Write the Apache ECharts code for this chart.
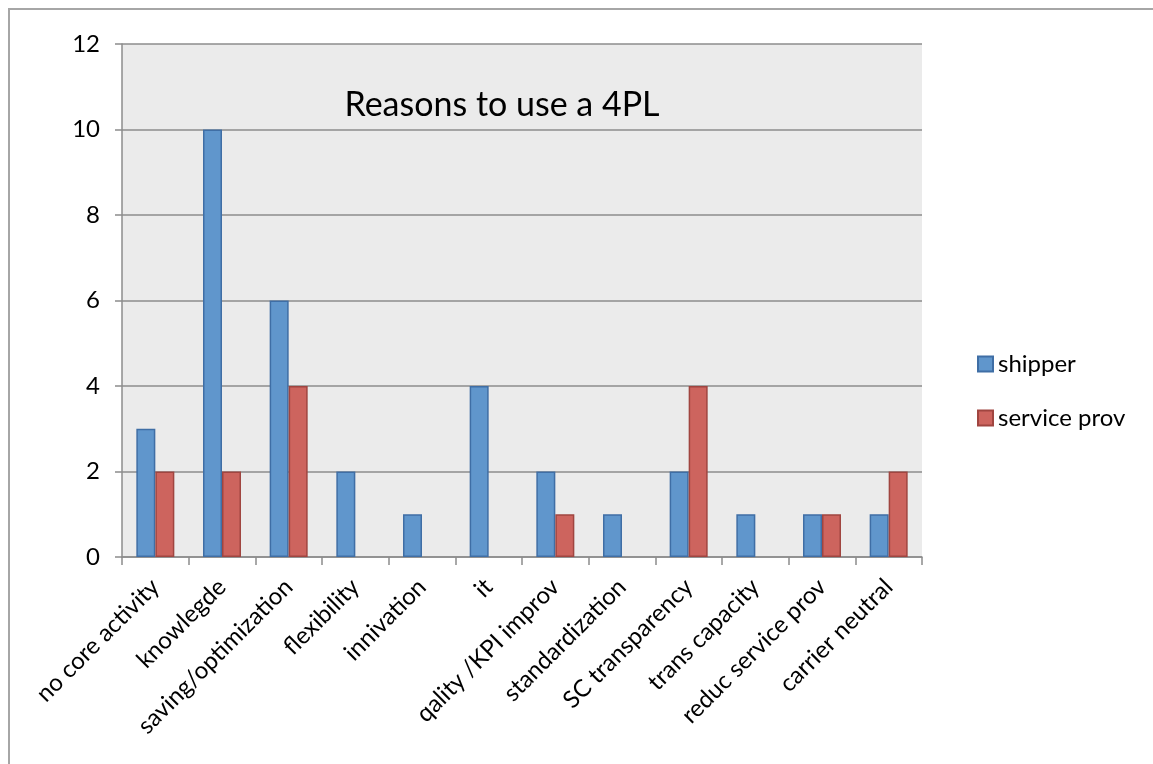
<!DOCTYPE html>
<html>
<head>
<meta charset="utf-8">
<script src="https://cdn.jsdelivr.net/npm/echarts@6/dist/echarts.min.js"></script>
<style>html,body{margin:0;padding:0;background:#fff;}#c{width:1153px;height:764px;}</style>
</head>
<body>
<div id="c"></div>
<script>
const categories = ['no core activity','knowlegde','saving/optimization','flexibility','innivation','it','qality /KPI improv','standardization','SC transparency','trans capacity','reduc service prov','carrier neutral'];
const shipper = [3,10,6,2,1,4,2,1,2,1,1,1];
const serviceProv = [2,2,4,0,0,0,1,0,4,0,1,2];
const yTicks = [0,2,4,6,8,10,12];

const FONT = 'Lato, "Open Sans", sans-serif';
const chart = echarts.init(document.getElementById('c'));
chart.setOption({
  animation: false,
  backgroundColor: '#fff',
  title: {
    text: 'Reasons to use a 4PL',
    left: 497, top: 83, textAlign: 'center',
    textStyle: {fontFamily: FONT, fontSize: 34, fontWeight: 'normal', color: '#000'}
  },
  graphic: [{
    type: 'rect', shape: {x: 9, y: 9, width: 1200, height: 800},
    style: {fill: 'none', stroke: '#a6a6a6', lineWidth: 2}, silent: true, z: -1
  }],
  legend: {
    orient: 'vertical', left: 972, top: 347, itemWidth: 15, itemHeight: 15, itemGap: 30,
    icon: 'rect',
    textStyle: {fontFamily: FONT, fontSize: 24, color: '#000'}
  },
  grid: {left: 122, top: 44, right: 231, bottom: 207, show: true, backgroundColor: '#ebebeb', borderWidth: 0},
  xAxis: {
    type: 'category', data: categories,
    axisLine: {lineStyle: {color: '#8c8c8c', width: 1.5}},
    axisTick: {show: true, length: 8, lineStyle: {color: '#8c8c8c', width: 1.5}},
    axisLabel: {rotate: 45, interval: 0, margin: 26, fontFamily: FONT, fontSize: 24, color: '#000'}
  },
  yAxis: {
    type: 'value', min: 0, max: 12, interval: 2,
    axisLine: {show: true, lineStyle: {color: '#8c8c8c', width: 1.5}},
    axisTick: {show: true, length: 7, lineStyle: {color: '#8c8c8c', width: 1.5}},
    splitLine: {show: true, lineStyle: {color: '#8c8c8c', width: 1.5}},
    axisLabel: {margin: 22, fontFamily: FONT, fontSize: 24, color: '#000',
      formatter: v => yTicks.includes(v) ? String(v) : ''}
  },
  series: [
    {name: 'shipper', type: 'bar', data: shipper.map(v => v === 0 ? null : v),
     barWidth: 19, barGap: '0%',
     itemStyle: {color: '#6096cc', borderColor: '#3f6ea5', borderWidth: 1.5}},
    {name: 'service prov', type: 'bar', data: serviceProv.map(v => v === 0 ? null : v),
     barWidth: 19, barGap: '0%',
     itemStyle: {color: '#cd645e', borderColor: '#a04540', borderWidth: 1.5}}
  ]
});
</script>
</body>
</html>
